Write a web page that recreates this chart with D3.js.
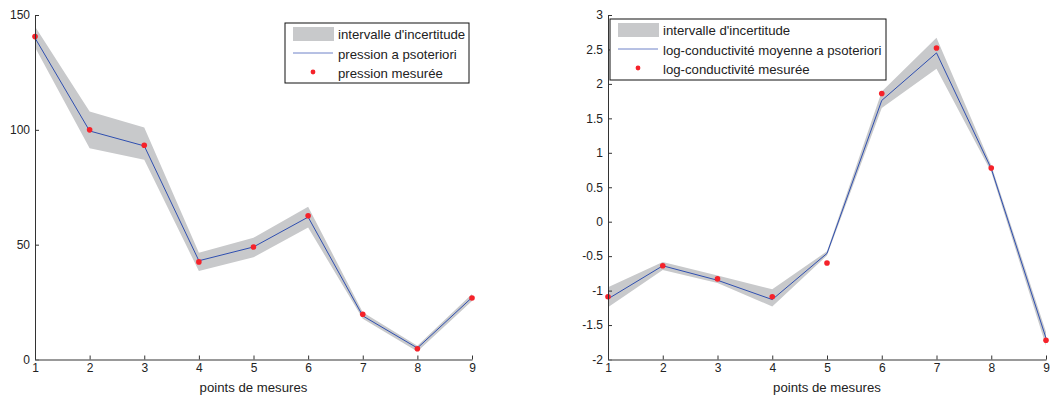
<!DOCTYPE html>
<html>
<head>
<meta charset="utf-8">
<script src="https://cdn.jsdelivr.net/npm/d3@7"></script>
<style>
body{margin:0;background:#fff;}
svg{font-family:"Liberation Sans",Arial,sans-serif;}
.tick text{font-size:12px;fill:#222;}
</style>
</head>
<body>
<script>
//points de mesures
var points = [1, 2, 3, 4, 5, 6, 7, 8, 9];

//left panel : pression
var pressMeasured = [140.6, 100, 93.3, 42.5, 49, 62.6, 19.7, 4.7, 26.8];
var pressMean = [140, 99.5, 93, 43, 49, 62, 19, 5, 27];
var pressLow = [136, 92, 87, 38.5, 44.5, 57.5, 17.7, 3.5, 25.5];
var pressHigh = [145, 108, 101, 46.5, 53, 66.5, 20.6, 6, 28.5];
var pressTicks = [0, 50, 100, 150];

//right panel : log-conductivite
var condMeasured = [-1.09, -0.64, -0.83, -1.09, -0.60, 1.86, 2.52, 0.78, -1.72];
var condMean = [-1.12, -0.64, -0.85, -1.13, -0.46, 1.76, 2.45, 0.77, -1.69];
var condLow = [-1.24, -0.70, -0.89, -1.23, -0.49, 1.65, 2.22, 0.72, -1.80];
var condHigh = [-0.95, -0.585, -0.78, -0.98, -0.43, 1.89, 2.67, 0.82, -1.60];
var condTicks = [-2, -1.5, -1, -0.5, 0, 0.5, 1, 1.5, 2, 2.5, 3];

var legendPress = ["intervalle d'incertitude", "pression a psoteriori", "pression mesurée"];
var legendCond = ["intervalle d'incertitude", "log-conductivité moyenne a psoteriori", "log-conductivité mesurée"];

var svg = d3.select("body").append("svg")
    .attr("width", 1051)
    .attr("height", 398);

drawPanel({
    x0: 35, x1: 472, yTop: 15, yBottom: 359.5,
    domain: [0, 150], ticks: pressTicks,
    measured: pressMeasured, mean: pressMean, low: pressLow, high: pressHigh,
    legend: legendPress, legendBox: [285, 23, 184, 60]
});

drawPanel({
    x0: 608, x1: 1046, yTop: 15, yBottom: 359.5,
    domain: [-2, 3], ticks: condTicks,
    measured: condMeasured, mean: condMean, low: condLow, high: condHigh,
    legend: legendCond, legendBox: [610, 19, 276, 61]
});

function drawPanel(c){
    var g = svg.append("g");

    var x = d3.scaleLinear().domain([1, 9]).range([c.x0, c.x1]);
    var y = d3.scaleLinear().domain(c.domain).range([c.yBottom, c.yTop]);

    //uncertainty band
    var area = d3.area()
        .x(function(d, i){ return x(points[i]); })
        .y0(function(d, i){ return y(c.low[i]); })
        .y1(function(d, i){ return y(c.high[i]); });
    g.append("path")
        .datum(points)
        .attr("d", area)
        .attr("fill", "#c8c9cb");

    //posterior mean
    var line = d3.line()
        .x(function(d, i){ return x(points[i]); })
        .y(function(d){ return y(d); });
    g.append("path")
        .datum(c.mean)
        .attr("d", line)
        .attr("fill", "none")
        .attr("stroke", "#2f4fb0")
        .attr("stroke-width", 1);

    //measured points
    g.selectAll(".pt")
        .data(c.measured)
        .enter()
        .append("circle")
        .attr("class", "pt")
        .attr("cx", function(d, i){ return x(points[i]); })
        .attr("cy", function(d){ return y(d); })
        .attr("r", 2.8)
        .attr("fill", "#f5222a");

    //axes
    var yAxis = g.append("g")
        .attr("transform", "translate(" + c.x0 + ",0)")
        .call(d3.axisLeft(y).tickValues(c.ticks).tickSizeInner(-4).tickSizeOuter(0).tickPadding(5)
            .tickFormat(function(d){ return String(d); }));
    yAxis.select(".domain").attr("stroke", "#333");
    yAxis.selectAll(".tick line").attr("stroke", "#333");

    var xAxis = g.append("g")
        .attr("transform", "translate(0," + c.yBottom + ")")
        .call(d3.axisBottom(x).tickValues(points).tickSizeInner(-4).tickSizeOuter(0).tickPadding(4)
            .tickFormat(d3.format("d")));
    xAxis.select(".domain").attr("stroke", "#777").attr("stroke-width", 1.6);
    xAxis.selectAll(".tick line").attr("stroke", "#333");

    g.append("text")
        .attr("x", (c.x0 + c.x1) / 2)
        .attr("y", 392)
        .attr("text-anchor", "middle")
        .attr("font-size", 13.2)
        .attr("fill", "#222")
        .text("points de mesures");

    //legend
    var b = c.legendBox;
    var lg = g.append("g").attr("transform", "translate(" + b[0] + "," + b[1] + ")");
    lg.append("rect")
        .attr("width", b[2]).attr("height", b[3])
        .attr("fill", "#fff").attr("stroke", "#111").attr("stroke-width", 1);
    lg.append("rect")
        .attr("x", 8).attr("y", 4).attr("width", 41).attr("height", 14)
        .attr("fill", "#c8c9cb");
    lg.append("line")
        .attr("x1", 8).attr("x2", 48).attr("y1", 30).attr("y2", 30)
        .attr("stroke", "#6f82c8").attr("stroke-width", 1);
    lg.append("circle")
        .attr("cx", 28).attr("cy", 49).attr("r", 2.4).attr("fill", "#f5222a");
    lg.selectAll(".lt")
        .data(c.legend)
        .enter()
        .append("text")
        .attr("class", "lt")
        .attr("x", 53)
        .attr("y", function(d, i){ return 16 + i * 19.5; })
        .attr("font-size", 13.2)
        .attr("fill", "#222")
        .text(function(d){ return d; });
}
</script>
</body>
</html>
